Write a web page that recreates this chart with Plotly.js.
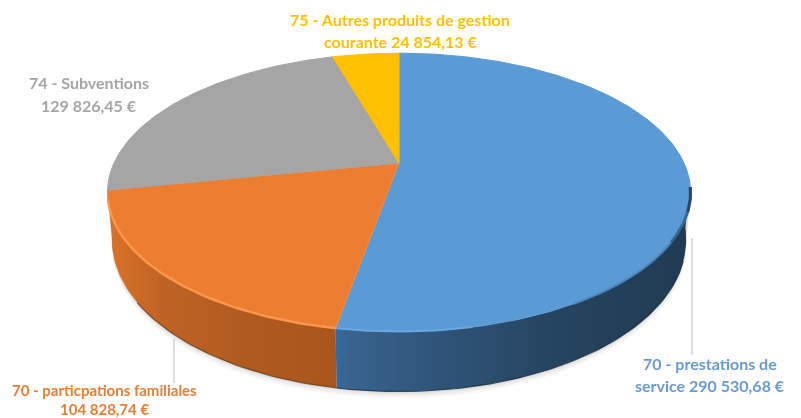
<!DOCTYPE html>
<html>
<head>
<meta charset="utf-8">
<script src="https://cdn.plot.ly/plotly-3.0.1.min.js"></script>
<style>
html,body{margin:0;padding:0;background:#fff;overflow:hidden}
#chart{width:801px;height:418px;filter:blur(0.45px)}
</style>
</head>
<body>
<div id="chart"></div>
<script>
// Data
const categories = ['70 - prestations de service','70 - particpations familiales','74 - Subventions','75 - Autres produits de gestion courante'];
const values = [290530.68, 104828.74, 129826.45, 24854.13];
const topColors = ['#5B9BD5','#ED7D31','#A5A5A5','#FFC000'];
const rimColors = ['#5B9BD5','#F98B3C','#A5A5A5','#FFC000'];
const wallScales = [
  [[0,'#2F6BA8'],[0.03,'#3A648F'],[0.25,'#30567C'],[0.6,'#264561'],[1,'#203A52']],
  [[0,'#DB7229'],[0.25,'#BE6325'],[0.6,'#B05A20'],[1,'#A8551C']],
  null, null
];
const labelLines = [
  ['70 - prestations de','service 290 530,68 €'],
  ['70 - particpations familiales','104 828,74 €'],
  ['74 - Subventions','129 826,45 €'],
  ['75 - Autres produits de gestion','courante 24 854,13 €']
];
const labelColors = ['#6A9BD0','#ED7D31','#A5A5A5','#FFC000'];
const labelSizes = [16,15,16,16];
const labelX = [710,104,89,400];
const labelY = [[363,385],[390,409],[82,105],[19,41]];
const leaders = [[[692,692],[238,355]],[[174,174],[339,383]]];

// Perspective disc model (image-pixel axis units)
const cx = 399, cy = 163, bx = 285, ay = 133, k = 0.211;
function rim(deg){
  const t = deg*Math.PI/180, u = Math.sin(t), v = Math.cos(t), w = 1+k*v;
  return {x: cx+bx*u/w, y: cy-ay*v/w, v};
}
function low(deg){
  const p = rim(deg);
  return {x: cx+(p.x-cx)*0.985, y: p.y+43.5-16.5*p.v};
}
function range(a,b){const r=[];for(let d=a;d<b;d+=1)r.push(d);r.push(b);return r;}
const total = values.reduce((s,v)=>s+v,0);
const traces = [];

// leader lines
leaders.forEach(l=>traces.push({type:'scatter',mode:'lines',x:l[0],y:l[1],line:{color:'#BDBDBD',width:1},hoverinfo:'skip'}));

// soft shadow under the disc
[[7,0.035],[5,0.05],[3,0.06],[1.5,0.07]].forEach(s=>{
  const pts = range(102,258).map(low);
  const back = range(102,258).map(rim).reverse();
  const all = pts.map(p=>({x:p.x,y:p.y+s[0]})).concat(back);
  traces.push({type:'scatter',mode:'lines',x:all.map(p=>p.x),y:all.map(p=>p.y),fill:'toself',
    fillcolor:'rgba(90,80,70,'+s[1]+')',line:{width:0},hoverinfo:'skip'});
});

// side walls and top faces
let start = 0; const spans = [];
values.forEach(v=>{const e=start+v/total*360;spans.push([start,e]);start=e;});
spans.forEach((sp,i)=>{
  if(!wallScales[i]) return;
  const ds = range(sp[0],sp[1]);
  const visible = i===0 ? ds.filter(d=>d>=98) : ds;
  const a = visible.map(rim), b = visible.map(low).reverse();
  traces.push({type:'scatter',mode:'lines',
    x:a.concat(b).map(p=>p.x),y:a.concat(b).map(p=>p.y),
    fill:'toself',fillgradient:{type:'horizontal',colorscale:wallScales[i]},
    line:{width:0},hoverinfo:'skip'});
});
spans.forEach((sp,i)=>{
  const pts = range(sp[0],sp[1]).map(rim);
  traces.push({type:'scatter',mode:'lines',name:categories[i],
    x:[cx].concat(pts.map(p=>p.x),[cx]),y:[cy].concat(pts.map(p=>p.y),[cy]),
    fill:'toself',fillcolor:topColors[i],line:{color:rimColors[i],width:1},hoverinfo:'skip'});
});
// bevel on the rim and dark foot of the wall
function arc(fn,a,b,color,w,op){
  const p = range(a,b).map(fn);
  traces.push({type:'scatter',mode:'lines',x:p.map(q=>q.x),y:p.map(q=>q.y),
    line:{color,width:w},opacity:op,hoverinfo:'skip'});
}
arc(rim,spans[1][0],spans[1][1]-4,'#FB9A4E',2.5,0.9);
arc(rim,spans[0][1]-22,spans[0][1],'#6BAEEA',2,0.8);
arc(rim,100,150,'#4D86BC',2.5,0.7);
arc(rim,100,122,'#34597F',3,0.75);
arc(rim,100,110,'#27425E',3,0.8);
arc(low,110,spans[0][1],'#16293B',1.2,0.8);
arc(low,spans[1][0],235,'#5A3418',1.2,0.7);

const annotations = [];
labelLines.forEach((ls,i)=>ls.forEach((t,j)=>annotations.push({
  x:labelX[i],y:labelY[i][j],xref:'x',yref:'y',text:'<b>'+t+'</b>',showarrow:false,
  xanchor:'center',yanchor:'middle',font:{family:'Lato, Carlito, sans-serif',size:labelSizes[i],color:labelColors[i]}
})));

Plotly.newPlot('chart',traces,{
  width:801,height:418,margin:{l:0,r:0,t:0,b:0},showlegend:false,
  paper_bgcolor:'#fff',plot_bgcolor:'#fff',
  xaxis:{range:[0,801],visible:false,fixedrange:true},
  yaxis:{range:[418,0],visible:false,fixedrange:true},
  annotations
},{displayModeBar:false,staticPlot:true});
</script>
</body>
</html>
